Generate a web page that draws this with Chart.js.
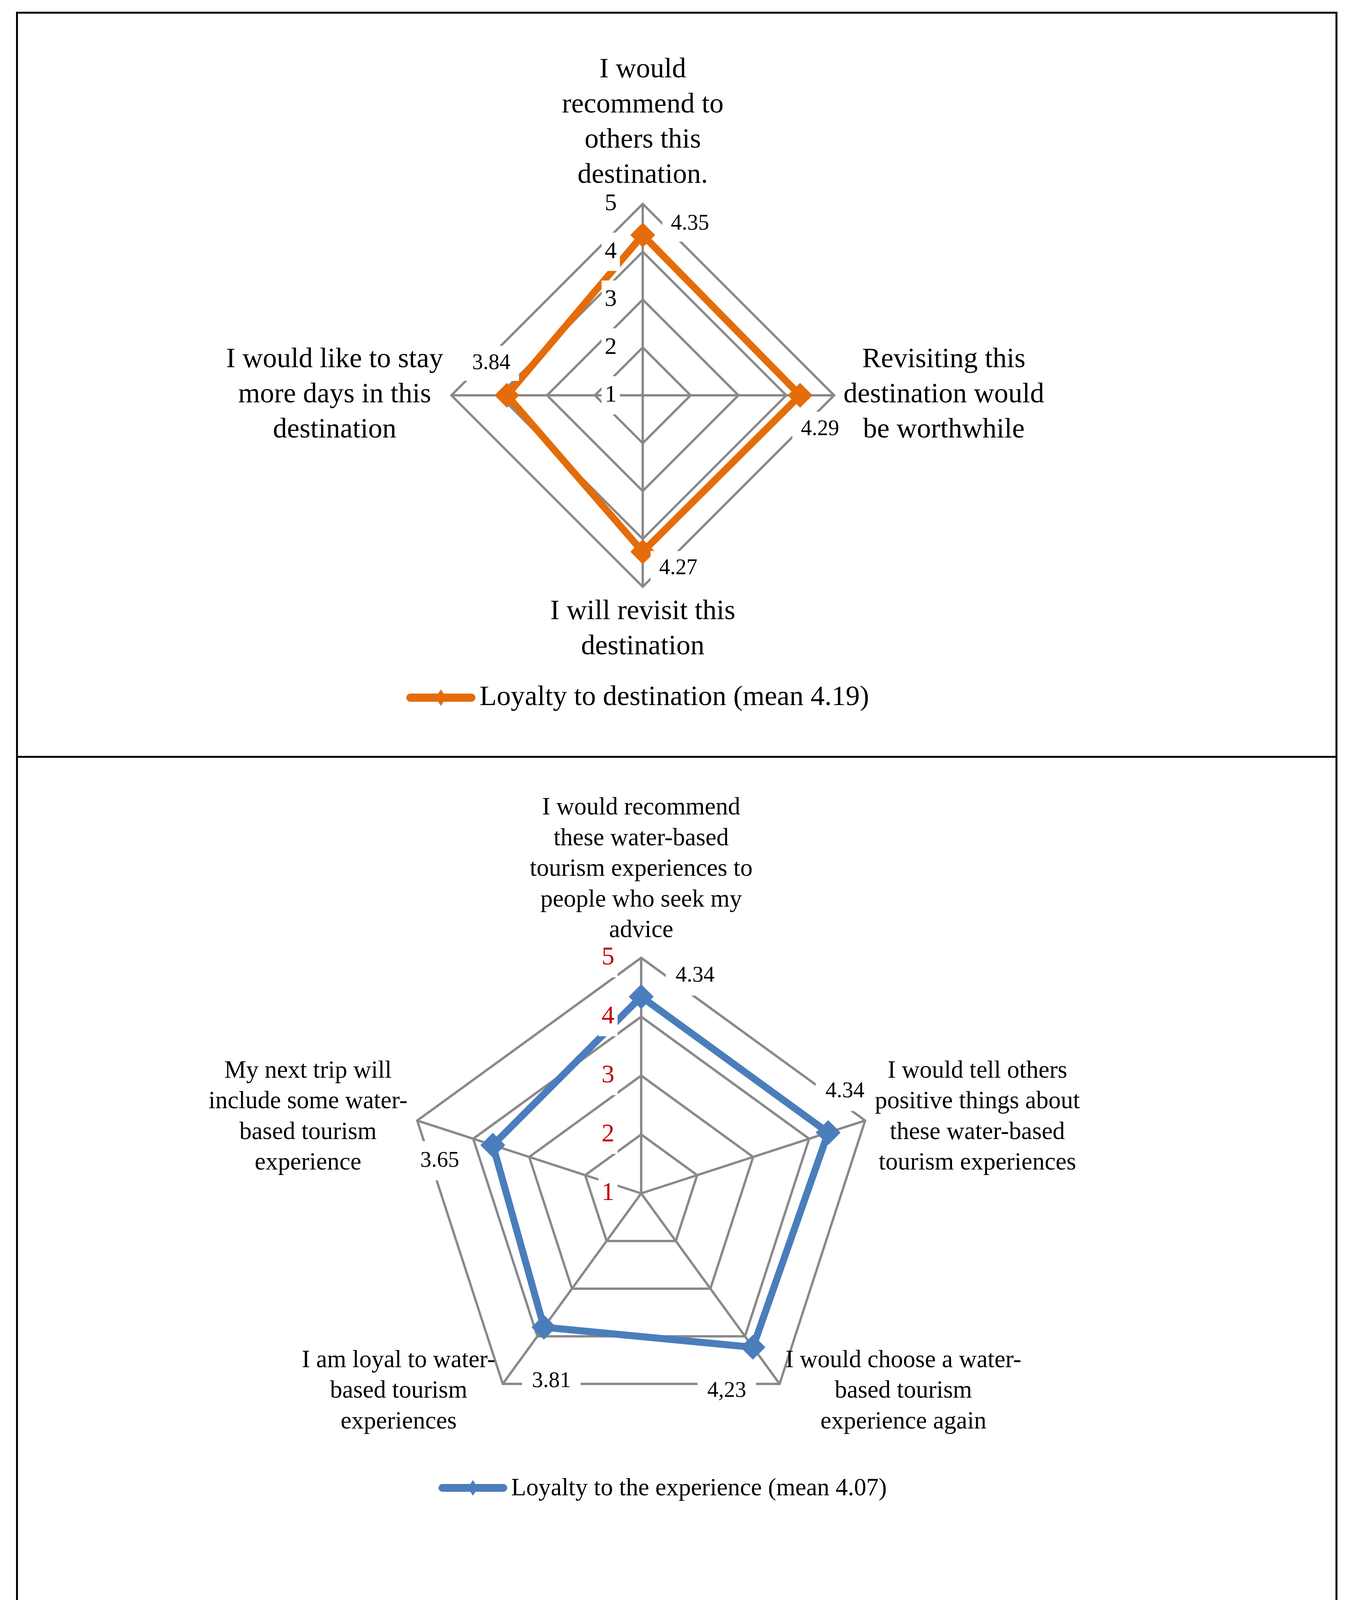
<!DOCTYPE html>
<html>
<head>
<meta charset="utf-8">
<script src="https://cdn.jsdelivr.net/npm/chart.js@4.4.1/dist/chart.umd.min.js"></script>
<style>
  html, body { margin: 0; padding: 0; background: #fff; }
  body { width: 3470px; height: 4175px; position: relative; overflow: hidden; }
  canvas { position: absolute; left: 0; }
  #c1 { top: 0; }
  #c2 { top: 1940px; }
  .frame { position: absolute; left: 41px; top: 30px; width: 3384px; height: 4097px; border: 5px solid #000; box-sizing: border-box; }
  .divider { position: absolute; left: 41px; top: 1935px; width: 3384px; height: 5px; background: #000; }
</style>
</head>
<body>
<canvas id="c1" width="3470" height="1935" style="width:3470px;height:1935px"></canvas>
<canvas id="c2" width="3470" height="2235" style="width:3470px;height:2235px"></canvas>
<div class="frame"></div>
<div class="divider"></div>
<script>
// scale (1 at centre, 5 at the outer ring)
var scaleTicks = [1, 2, 3, 4, 5];

// chart 1 : loyalty to destination
var destCategories = [
  ['I would', 'recommend to', 'others this', 'destination.'],
  ['Revisiting this', 'destination would', 'be worthwhile'],
  ['I will revisit this', 'destination'],
  ['I would like to stay', 'more days in this', 'destination']
];
var destValues = [4.35, 4.29, 4.27, 3.84];
var destValueLabels = ['4.35', '4.29', '4.27', '3.84'];
var destSeries = 'Loyalty to destination (mean 4.19)';

// chart 2 : loyalty to the experience
var expCategories = [
  ['I would recommend', 'these water-based', 'tourism experiences to', 'people who seek my', 'advice'],
  ['I would tell others', 'positive things about', 'these water-based', 'tourism experiences'],
  ['I would choose a water-', 'based tourism', 'experience again'],
  ['I am loyal to water-', 'based tourism', 'experiences'],
  ['My next trip will', 'include some water-', 'based tourism', 'experience']
];
var expValues = [4.34, 4.34, 4.23, 3.81, 3.65];
var expValueLabels = ['4.34', '4.34', '4,23', '3.81', '3.65'];
var expSeries = 'Loyalty to the experience (mean 4.07)';

var FONT = '"Liberation Serif", "Times New Roman", serif';
var GRID = '#898989';

// draws tick numbers, data labels, category labels and legend
function makeOverlay(cfg) {
  return {
    id: 'overlay',
    afterDatasetsDraw: function (chart) {
      var ctx = chart.ctx;
      var r = chart.scales.r;
      var meta = chart.getDatasetMeta(0);
      var ds = chart.data.datasets[0];
      ctx.save();

      // tick labels with white backdrop
      ctx.font = cfg.tickFont + 'px ' + FONT;
      ctx.textAlign = 'center';
      ctx.textBaseline = 'middle';
      r.ticks.forEach(function (t) {
        var y = r.yCenter - r.getDistanceFromCenterForValue(t.value);
        var x = r.xCenter + cfg.tickDx;
        var w = ctx.measureText(t.label).width;
        ctx.fillStyle = '#fff';
        ctx.fillRect(x - w / 2 - 8, y - cfg.tickBoxH / 2, w + 16, cfg.tickBoxH);
        ctx.fillStyle = cfg.tickColor;
        ctx.fillText(t.label, x, y);
      });

      // value labels
      ctx.font = cfg.valueFont + 'px ' + FONT;
      meta.data.forEach(function (pt, i) {
        var off = cfg.valueOffset[i];
        var s = cfg.valueText[i];
        var x = pt.x + off[0], y = pt.y + off[1];
        var w = ctx.measureText(s).width;
        ctx.fillStyle = '#fff';
        ctx.fillRect(x - w / 2 - cfg.valuePad, y - cfg.valueBoxH / 2, w + 2 * cfg.valuePad, cfg.valueBoxH);
        ctx.fillStyle = '#000';
        ctx.fillText(s, x, y);
      });

      // category labels
      ctx.fillStyle = '#000';
      ctx.font = cfg.labelFont + 'px ' + FONT;
      ctx.textBaseline = 'alphabetic';
      ctx.textAlign = 'center';
      chart.data.labels.forEach(function (lines, i) {
        var p = r.getPointPosition(i, r.drawingArea);
        var a = cfg.labelPlace[i];
        var w = 0;
        lines.forEach(function (s) { w = Math.max(w, ctx.measureText(s).width); });
        var cx = p.x + a.dx;
        if (a.align === 'left') cx += w / 2;
        if (a.align === 'right') cx -= w / 2;
        var n = lines.length, lh = cfg.lineHeight, y0;
        if (a.valign === 'bottom') y0 = p.y + a.dy - (n - 1) * lh;
        else if (a.valign === 'top') y0 = p.y + a.dy;
        else y0 = p.y + a.dy - (n - 1) * lh / 2;
        lines.forEach(function (s, k) { ctx.fillText(s, cx, y0 + k * lh); });
      });

      // legend
      var L = cfg.legend;
      ctx.strokeStyle = ds.borderColor;
      ctx.lineWidth = L.lw;
      ctx.lineCap = 'round';
      ctx.beginPath();
      ctx.moveTo(L.x0, L.y);
      ctx.lineTo(L.x1, L.y);
      ctx.stroke();
      var mx = (L.x0 + L.x1) / 2;
      ctx.fillStyle = ds.borderColor;
      ctx.beginPath();
      ctx.moveTo(mx - L.mw, L.y);
      ctx.lineTo(mx, L.y - L.mh);
      ctx.lineTo(mx + L.mw, L.y);
      ctx.lineTo(mx, L.y + L.mh);
      ctx.closePath();
      ctx.fill();
      ctx.fillStyle = '#000';
      ctx.font = cfg.legendFont + 'px ' + FONT;
      ctx.textAlign = 'left';
      ctx.fillText(ds.label, L.tx, L.ty);

      ctx.restore();
    }
  };
}

function makeChart(id, cats, vals, name, color, pad, cfg) {
  return new Chart(document.getElementById(id), {
    type: 'radar',
    data: {
      labels: cats,
      datasets: [{
        label: name,
        data: vals,
        borderColor: color,
        backgroundColor: color,
        borderWidth: 18,
        borderJoinStyle: 'round',
        fill: false,
        pointStyle: 'rectRot',
        pointRadius: 29,
        pointBorderWidth: 4,
        pointBackgroundColor: color,
        pointBorderColor: color
      }]
    },
    options: {
      responsive: false,
      animation: false,
      devicePixelRatio: 1,
      events: [],
      layout: { padding: pad },
      plugins: { legend: { display: false }, tooltip: { enabled: false } },
      scales: {
        r: {
          min: scaleTicks[0],
          max: scaleTicks[scaleTicks.length - 1],
          ticks: { display: false, stepSize: 1 },
          pointLabels: { display: false },
          grid: { color: GRID, lineWidth: 6 },
          angleLines: { color: GRID, lineWidth: 6 }
        }
      }
    },
    plugins: [makeOverlay(cfg)]
  });
}

makeChart('c1', destCategories, destValues, destSeries, '#E46C0A',
  { left: 1156, right: 1334, top: 522, bottom: 433 },
  {
    tickFont: 62, tickDx: -82, tickBoxH: 98, tickColor: '#000',
    valueFont: 56, valuePad: 22, valueBoxH: 90, valueText: destValueLabels,
    valueOffset: [[121, -28], [51, 87], [91, 43], [-40, -82]],
    labelFont: 72, lineHeight: 90,
    labelPlace: [
      { align: 'center', valign: 'bottom', dx: 0, dy: -54 },
      { align: 'left', valign: 'middle', dx: 24, dy: 18 },
      { align: 'center', valign: 'top', dx: 0, dy: 83 },
      { align: 'right', valign: 'middle', dx: -21, dy: 18 }
    ],
    legendFont: 72,
    legend: { x0: 1051, x1: 1207, y: 1786, lw: 21, mw: 14, mh: 21, tx: 1228, ty: 1805 }
  });

makeChart('c2', expCategories, expValues, expSeries, '#4A7EBB',
  { left: 1039, right: 1225, top: 512, bottom: 517 },
  {
    tickFont: 66, tickDx: -85, tickBoxH: 100, tickColor: '#C00000',
    valueFont: 57, valuePad: 25, valueBoxH: 100, valueText: expValueLabels,
    valueOffset: [[138, -53], [43, -105], [-67, 112], [19, 138], [-136, 40]],
    labelFont: 63, lineHeight: 78.5,
    labelPlace: [
      { align: 'center', valign: 'bottom', dx: 0, dy: -53 },
      { align: 'left', valign: 'middle', dx: 25, dy: 8 },
      { align: 'left', valign: 'top', dx: 15, dy: -43 },
      { align: 'right', valign: 'top', dx: -19, dy: -43 },
      { align: 'right', valign: 'middle', dx: -25, dy: 8 }
    ],
    legendFont: 63,
    legend: { x0: 1133, x1: 1289, y: 1869, lw: 20, mw: 13, mh: 20, tx: 1309, ty: 1888 }
  });
</script>
</body>
</html>
